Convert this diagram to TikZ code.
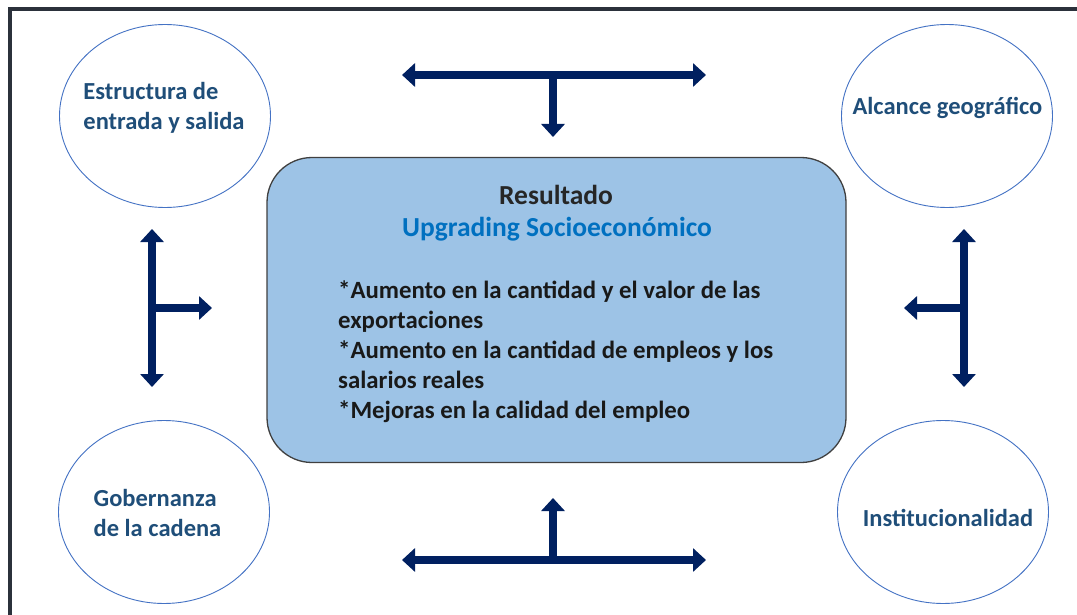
\documentclass[tikz,border=0pt]{standalone}
\usepackage{fontspec}
\setmainfont{Carlito}
\usetikzlibrary{arrows.meta,shapes.geometric}
\definecolor{navy}{HTML}{002060}
\definecolor{ringblue}{HTML}{4472C4}
\definecolor{ctextcol}{HTML}{1F4E79}
\definecolor{boxfill}{HTML}{9DC3E6}
\definecolor{boxline}{HTML}{404040}
\definecolor{upblue}{HTML}{0070C0}
\definecolor{framecol}{HTML}{2B313B}
\begin{document}
\begin{tikzpicture}[x=1pt,y=-1pt,
  ring/.style={ellipse,draw=ringblue,line width=0.9pt,minimum width=211pt,minimum height=183pt,inner sep=0pt,fill=white},
  ctext/.style={text=ctextcol,font=\fontsize{24.5}{30}\selectfont\bfseries,align=left,inner sep=0pt},
  bigarrow/.style={draw=navy,line width=8pt,-{Triangle[width=23pt,length=13pt]}},
  dblarrow/.style={draw=navy,line width=8pt,{Triangle[width=23pt,length=13pt]}-{Triangle[width=23pt,length=13pt]}},
  mainbox/.style={draw=boxline,line width=1.3pt,fill=boxfill,rounded corners=45pt,minimum width=579pt,minimum height=305pt,inner sep=0pt}]
\useasboundingbox (0,0) rectangle (1077,615);
\fill[white] (0,0) rectangle (1077,615);
% frame
\draw[framecol,line width=3.5pt] (10,630) -- (10,9) -- (1090,9);
% main box
\node[mainbox] (box) at (556.5,310) {};
\node[font=\fontsize{27.5}{32}\selectfont\bfseries,text=black!85,inner sep=0pt] (title) at (556,195) {Resultado};
\node[font=\fontsize{27.5}{32}\selectfont\bfseries,text=upblue,inner sep=0pt] (sub) at (557,229) {Upgrading Socioeconómico};
\node[font=\fontsize{24.8}{30}\selectfont\bfseries,text=black!90,align=left,inner sep=0pt,anchor=west] (body) at (338,352)
  {*Aumento en la cantidad y el valor de las\\exportaciones\\*Aumento en la cantidad de empleos y los\\salarios reales\\*Mejoras en la calidad del empleo};
% ellipses
\node[ring] (e1) at (165,116) {};
\node[ctext] (t1) at (164,108) {Estructura de\\entrada y salida};
\node[ring] (e2) at (947,116) {};
\node[ctext] (t2) at (947.5,108) {Alcance geográfico};
\node[ring] (e3) at (164,512) {};
\node[ctext] (t3) at (157.5,513) {Gobernanza\\de la cadena};
\node[ring] (e4) at (943,512) {};
\node[ctext] (t4) at (948,518) {Institucionalidad};
% arrow coordinates
\coordinate (tL) at (402,75); \coordinate (tR) at (706,75);
\coordinate (tM) at (553,75); \coordinate (tD) at (553,137);
\coordinate (bL) at (402,560); \coordinate (bR) at (706,560);
\coordinate (bM) at (553,560); \coordinate (bU) at (553,498);
\coordinate (lT) at (152,229); \coordinate (lB) at (152,387);
\coordinate (lM) at (152,308); \coordinate (lR) at (212,308);
\coordinate (rT) at (964,229); \coordinate (rB) at (964,387);
\coordinate (rM) at (964,308); \coordinate (rL) at (904,308);
% arrows
\draw[dblarrow] (tL) -- (tR);
\draw[bigarrow] (tM) -- (tD);
\draw[dblarrow] (bL) -- (bR);
\draw[bigarrow] (bM) -- (bU);
\draw[dblarrow] (lT) -- (lB);
\draw[bigarrow] (lM) -- (lR);
\draw[dblarrow] (rT) -- (rB);
\draw[bigarrow] (rM) -- (rL);
\end{tikzpicture}
\end{document}
